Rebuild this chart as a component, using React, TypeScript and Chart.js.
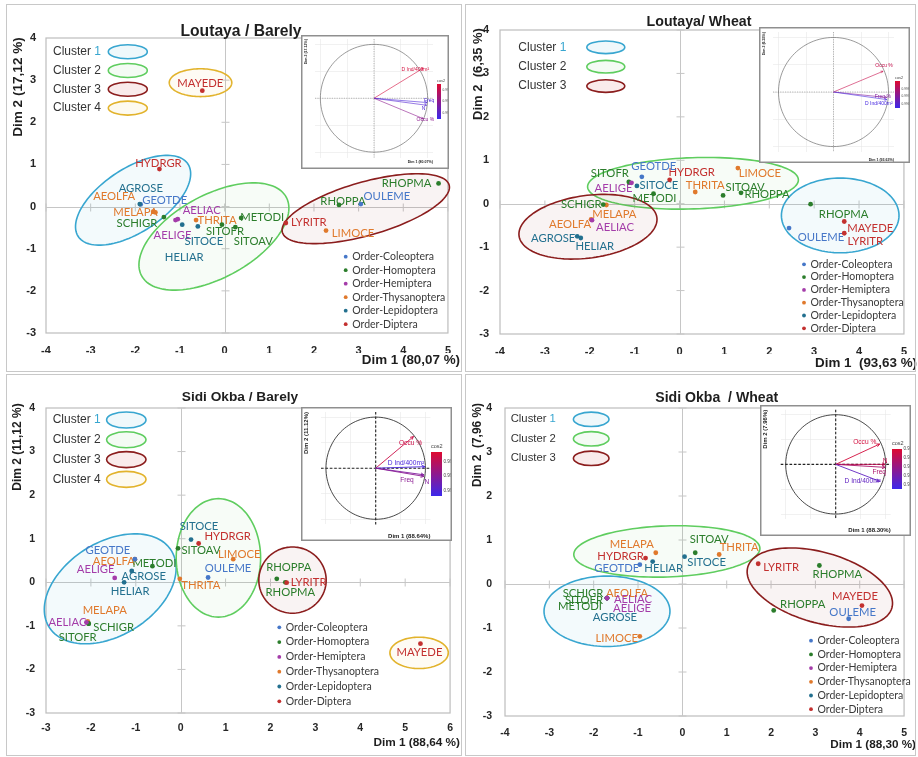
import React, { useEffect, useRef } from "react";
import { Chart, registerables } from "chart.js";

Chart.register(...registerables);

/* ============================ DATA ============================ */
const SPECIES = ["HYDRGR", "AGROSE", "GEOTDE", "AEOLFA", "MELAPA", "SCHIGR", "AELIGE", "AELIAC", "THRITA", "HELIAR", "SITOCE", "SITOFR", "METODI", "SITOAV", "LYRITR", "LIMOCE", "RHOPPA", "OULEME", "RHOPMA", "MAYEDE"];
const SPECIES_ORDER = ["Diptera", "Lepidoptera", "Coleoptera", "Thysanoptera", "Thysanoptera", "Homoptera", "Hemiptera", "Hemiptera", "Thysanoptera", "Lepidoptera", "Lepidoptera", "Homoptera", "Homoptera", "Homoptera", "Diptera", "Thysanoptera", "Homoptera", "Coleoptera", "Homoptera", "Diptera"];
const ORDERS = ["Coleoptera", "Homoptera", "Hemiptera", "Thysanoptera", "Lepidoptera", "Diptera"];
const ORDER_LEGEND = ["Order-Coleoptera", "Order-Homoptera", "Order-Hemiptera", "Order-Thysanoptera", "Order-Lepidoptera", "Order-Diptera"];
const CLUSTER_LABELS = ["Cluster 1", "Cluster 2", "Cluster 3", "Cluster 4"];
const INSET_TICKS = [-1, -0.5, 0, 0.5, 1];

// Loutaya / Barely
const LB_TITLE = "Loutaya / Barely";
const LB_DIM1 = "Dim 1 (80,07 %)";
const LB_DIM2 = "Dim 2 (17,12 %)";
const LB_X = [-1.46, -1.9, -1.88, -1.6, -1.55, -1.36, -1.1, -1.05, -0.64, -0.95, -0.6, -0.06, 0.37, 0.24, 1.37, 2.27, 2.56, 3.05, 4.79, -0.5];
const LB_Y = [0.89, 0.06, 0.05, -0.12, -0.14, -0.25, -0.32, -0.3, -0.32, -0.43, -0.47, -0.43, -0.27, -0.49, -0.39, -0.57, 0.04, 0.06, 0.55, 2.75];
const LB_ELLIPSES = [[-2.05, 0.15, 1.5, 0.74, 36], [-0.24, -0.71, 1.87, 0.97, 31], [3.16, -0.05, 1.95, 0.63, 17], [-0.54, 2.94, 0.7, 0.33, 0]];
const LB_VARS = ["D Ind/400m²", "Freq", "N", "Occu %"];
const LB_VX = [0.92, 0.99, 0.98, 0.92];
const LB_VY = [0.56, -0.08, -0.13, -0.38];
const LB_COS2 = [0.9993, 0.9968, 0.9969, 0.998];
const LB_CBAR = [0.999, 0.998, 0.997];
const LB_CBAR_RANGE = [0.9965, 0.9995];
const LB_INSET_DIM1 = "Dim 1 (80.07%)";
const LB_INSET_DIM2 = "Dim 2 (17.12%)";

// Loutaya / Wheat
const LW_TITLE = "Loutaya/ Wheat";
const LW_DIM1 = "Dim 1  (93,63 %)";
const LW_DIM2 = "Dim 2  (6,35 %)";
const LW_X = [-0.22, -2.28, -0.84, -1.97, -1.63, -1.7, -1.07, -1.95, 0.35, -2.2, -0.95, -1.13, -0.58, 0.97, 3.67, 1.3, 1.37, 2.44, 2.92, 3.67];
const LW_Y = [0.55, -0.75, 0.62, -0.36, -0.03, -0.02, 0.48, -0.38, 0.27, -0.79, 0.41, 0.5, 0.23, 0.19, -0.68, 0.82, 0.25, -0.56, -0.01, -0.41];
const LW_ELLIPSES = [[3.58, -0.27, 1.31, 0.86, 0], [0.3, 0.47, 2.35, 0.59, 2], [-2.04, -0.53, 1.55, 0.72, 8]];
const LW_VARS = ["Occu %", "Freq %", "D Ind/400m²"];
const LW_VX = [0.9, 0.97, 0.97];
const LW_VY = [0.38, -0.1, -0.14];
const LW_COS2 = [0.9985, 0.997, 0.9957];
const LW_CBAR = [0.998, 0.997, 0.996];
const LW_CBAR_RANGE = [0.9955, 0.999];
const LW_INSET_DIM1 = "Dim 1 (93.63%)";
const LW_INSET_DIM2 = "Dim 2 (6.35%)";

// Sidi Okba / Barely
const SB_TITLE = "Sidi Okba / Barely";
const SB_DIM1 = "Dim 1 (88,64 %)";
const SB_DIM2 = "Dim 2 (11,12 %)";
const SB_X = [0.4, -1.09, -1.02, -1.02, -2.07, -2.05, -1.47, -2.1, -0.02, -1.26, 0.23, -2.05, -0.63, -0.06, 2.36, 1.17, 2.14, 0.61, 2.33, 5.34];
const SB_Y = [0.89, 0.26, 0.53, 0.53, -0.9, -0.95, 0.1, -0.92, 0.08, 0.0, 0.98, -0.95, 0.37, 0.78, -0.01, 0.53, 0.08, 0.11, 0.0, -1.41];
const SB_ELLIPSES = [[-1.57, -0.15, 1.62, 1.06, 34], [0.84, 0.56, 0.94, 1.36, 0], [2.49, 0.05, 0.75, 0.76, 0], [5.31, -1.62, 0.65, 0.36, 0]];
const SB_VARS = ["Occu %", "D Ind/400m²", "Freq", "N"];
const SB_VX = [0.76, 0.99, 0.97, 0.97];
const SB_VY = [0.62, 0.03, -0.16, -0.13];
const SB_COS2 = [0.9986, 0.9938, 0.9962, 0.9958];
const SB_CBAR = [0.998, 0.996, 0.994];
const SB_CBAR_RANGE = [0.9933, 0.9993];
const SB_INSET_DIM1 = "Dim 1 (88.64%)";
const SB_INSET_DIM2 = "Dim 2 (11.12%)";

// Sidi Okba / Wheat
const SW_TITLE = "Sidi Okba  / Wheat";
const SW_DIM1 = "Dim 1 (88,30 %)";
const SW_DIM2 = "Dim 2  (7,96 %)";
const SW_X = [-0.83, -1.7, -0.96, -1.7, -0.6, -1.7, -1.7, -1.7, 0.83, -0.67, 0.05, -1.7, -1.7, 0.29, 1.71, -0.96, 2.06, 3.75, 3.09, 4.05];
const SW_Y = [0.59, -0.32, 0.44, -0.32, 0.71, -0.32, -0.32, -0.32, 0.67, 0.51, 0.62, -0.32, -0.32, 0.71, 0.46, -1.19, -0.6, -0.79, 0.42, -0.49];
const SW_ELLIPSES = [[-1.7, -0.62, 1.42, 0.8, 0], [-0.35, 0.74, 2.1, 0.58, 2], [3.1, -0.08, 1.69, 0.8, -16]];
const SW_VARS = ["Occu %", "N", "Freq", "D Ind/400m²"];
const SW_VX = [0.88, 0.99, 0.99, 0.88];
const SW_VY = [0.41, 0.0, -0.06, -0.34];
const SW_COS2 = [0.977, 0.972, 0.966, 0.945];
const SW_CBAR = [0.98, 0.97, 0.96, 0.95, 0.94];
const SW_CBAR_RANGE = [0.935, 0.98];
const SW_INSET_DIM1 = "Dim 1 (88.30%)";
const SW_INSET_DIM2 = "Dim 2 (7.96%)";

/* ============================ STYLE / LAYOUT ============================ */
const SANS = "'Liberation Sans', Arial, sans-serif";
const LABEL_FAMILY = "Lato, 'Open Sans', sans-serif";
const ORDER_COLORS: Record<string, string> = {
  Coleoptera: "#4677c8",
  Homoptera: "#2b7d2b",
  Hemiptera: "#a43ca9",
  Thysanoptera: "#e0792c",
  Lepidoptera: "#23708f",
  Diptera: "#c3302f",
};
// drawing priority (lower = on top)
const ORDER_DRAW = [3, 4, 0, 5, 2, 1];
const CLUSTER_COLORS = ["#38a6d0", "#5fcd5f", "#8b1d1d", "#e2b32c"];
const CLUSTER_FILLS = ["rgba(56,166,208,0.06)", "rgba(95,205,95,0.05)", "rgba(139,29,29,0.05)", "rgba(226,179,44,0.05)"];
const CLUSTER_LEG_FILLS = ["rgba(56,166,208,0.08)", "rgba(95,205,95,0.07)", "rgba(200,60,60,0.1)", "rgba(226,179,44,0.07)"];

type Inset = { box: number[]; area: number[]; cbar: number[]; tick: number; title: number; label: number; xTitleDy: number; yTitleDx: number; heavy: boolean; offsets: number[][] };
type Layout = {
  key: string; canvas: number[]; border: number[]; area: number[]; xRange: number[]; yRange: number[];
  title: number[]; yTitle: number[]; xTitle: number[]; fonts: number[];
  cluster: number[]; order: number[]; tickPad: number[]; offsets: number[][]; inset: Inset;
};
type PanelData = {
  title: string; dim1: string; dim2: string; xs: number[]; ys: number[]; ellipses: number[][];
  vars: string[]; vx: number[]; vy: number[]; cos2: number[]; cbar: number[]; cbarRange: number[];
  insetDim1: string; insetDim2: string;
};

const LB_LAYOUT: Layout = {
  key: "lb", canvas: [0, 0, 462, 373], border: [6, 4, 456, 368], area: [46, 38, 450, 333],
  xRange: [-4, 5], yRange: [-3, 4], title: [241, 32], yTitle: [18, 87], xTitle: [460, 360],
  fonts: [15.7, 13.6, 13.4, 11, 12],
  cluster: [53, 51.7, 18.8, 127.8, 19.5, 7], order: [345.7, 256.7, 13.5], tickPad: [10, 11],
  offsets: [[-1, -6], [1, -16], [24, -4], [-39, -15], [-20, 0], [-27, 6], [-3, 15], [24, -9], [21, 0], [2, 33], [6, 15], [3, 7], [21, -1], [18, 14], [23, -1], [27, 3], [4, -4], [26, -8], [-32, 0], [-2, -7]],
  inset: { box: [301, 35, 148, 134], area: [315, 39, 433, 157.5], cbar: [437, 84, 4, 35], tick: 3.2, title: 3.6, label: 5, xTitleDy: 4.8, yTitleDx: -9, heavy: false, offsets: [[-8, 2], [2, -2], [-3, 3], [2, 1]] },
};
const LW_LAYOUT: Layout = {
  key: "lw", canvas: [462, 0, 456, 373], border: [465, 4, 451, 368], area: [500, 30, 910, 334],
  xRange: [-4, 5], yRange: [-3, 4], title: [699, 22], yTitle: [478, 74], xTitle: [917, 363],
  fonts: [14.2, 13, 13.4, 11, 12],
  cluster: [518.3, 47.3, 19.4, 605.8, 19, 6.3], order: [804, 264.3, 12.8], tickPad: [11, 11],
  offsets: [[22, -7], [-24, 2], [12, -10], [-21, 5], [8, 9], [-22, 0], [-18, 5], [23, 7], [10, -7], [14, 8], [22, -1], [-19, -9], [1, 5], [22, -8], [21, 8], [22, 5], [26, 2], [32, 9], [33, 10], [26, 7]],
  inset: { box: [759, 27, 151, 136], area: [773, 32, 894, 152], cbar: [895, 81, 5, 27], tick: 3.2, title: 3.6, label: 5, xTitleDy: 8, yTitleDx: -9, heavy: false, offsets: [[1, -6], [-4, -1], [-8, 4]] },
};
const SB_LAYOUT: Layout = {
  key: "sb", canvas: [0, 373, 462, 384], border: [6, 374, 456, 382], area: [46, 408, 455, 713],
  xRange: [-3, 6], yRange: [-3, 4], title: [240, 397], yTitle: [18, 447], xTitle: [460, 743],
  fonts: [13.7, 12, 11.8, 10.5, 12],
  cluster: [52.7, 420, 19.8, 126.3, 19.7, 8], order: [279.3, 627.3, 14.8], tickPad: [11, 9],
  offsets: [[29, -7], [12, 5], [-27, -9], [-21, 2], [17, -11], [25, 4], [-19, -9], [-19, 0], [21, 7], [6, 9], [8, -13], [-11, 14], [2, -3], [23, 2], [22, 0], [6, -5], [12, -11], [20, -9], [5, 10], [-1, 9]],
  inset: { box: [301, 407, 151, 134], area: [321, 412, 430.4, 524.4], cbar: [431, 452, 11, 44], tick: 4.6, title: 6, label: 6.6, xTitleDy: 12.3, yTitleDx: -14.3, heavy: true, offsets: [[-3, 7], [-19, -3], [-17, 4], [3, 7]] },
};
const SW_LAYOUT: Layout = {
  key: "sw", canvas: [462, 373, 456, 384], border: [465, 374, 451, 382], area: [505, 408, 912, 716],
  xRange: [-4, 5], yRange: [-3, 4], title: [716.7, 398], yTitle: [478, 445], xTitle: [916, 745],
  fonts: [14.1, 11.9, 11.7, 10.5, 11.3],
  cluster: [510.7, 419.3, 19.5, 591.2, 17.8, 7.2], order: [811, 640.7, 13.7], tickPad: [13, 11],
  offsets: [[-25, -2], [8, 19], [-23, 4], [20, -5], [-24, -8], [-24, -5], [25, 10], [26, 1], [20, -7], [11, 7], [22, 6], [-23, 2], [-27, 8], [14, -13], [23, 4], [-23, 2], [29, -6], [4, -6], [18, 9], [-7, -9]],
  inset: { box: [760, 405, 151, 131], area: [780.7, 409.6, 890.7, 519], cbar: [892, 449, 10, 40], tick: 4.6, title: 6, label: 6.6, xTitleDy: 11.7, yTitleDx: -15.7, heavy: true, offsets: [[-15, -2], [0, -3], [-6, 5], [-17, 0]] },
};

const PANELS: { data: PanelData; layout: Layout }[] = [
  { data: { title: LB_TITLE, dim1: LB_DIM1, dim2: LB_DIM2, xs: LB_X, ys: LB_Y, ellipses: LB_ELLIPSES, vars: LB_VARS, vx: LB_VX, vy: LB_VY, cos2: LB_COS2, cbar: LB_CBAR, cbarRange: LB_CBAR_RANGE, insetDim1: LB_INSET_DIM1, insetDim2: LB_INSET_DIM2 }, layout: LB_LAYOUT },
  { data: { title: LW_TITLE, dim1: LW_DIM1, dim2: LW_DIM2, xs: LW_X, ys: LW_Y, ellipses: LW_ELLIPSES, vars: LW_VARS, vx: LW_VX, vy: LW_VY, cos2: LW_COS2, cbar: LW_CBAR, cbarRange: LW_CBAR_RANGE, insetDim1: LW_INSET_DIM1, insetDim2: LW_INSET_DIM2 }, layout: LW_LAYOUT },
  { data: { title: SB_TITLE, dim1: SB_DIM1, dim2: SB_DIM2, xs: SB_X, ys: SB_Y, ellipses: SB_ELLIPSES, vars: SB_VARS, vx: SB_VX, vy: SB_VY, cos2: SB_COS2, cbar: SB_CBAR, cbarRange: SB_CBAR_RANGE, insetDim1: SB_INSET_DIM1, insetDim2: SB_INSET_DIM2 }, layout: SB_LAYOUT },
  { data: { title: SW_TITLE, dim1: SW_DIM1, dim2: SW_DIM2, xs: SW_X, ys: SW_Y, ellipses: SW_ELLIPSES, vars: SW_VARS, vx: SW_VX, vy: SW_VY, cos2: SW_COS2, cbar: SW_CBAR, cbarRange: SW_CBAR_RANGE, insetDim1: SW_INSET_DIM1, insetDim2: SW_INSET_DIM2 }, layout: SW_LAYOUT },
];

/* ============================ HELPERS ============================ */
function fitSize(ctx: CanvasRenderingContext2D, family: string, sample: string, target: number) {
  ctx.save();
  ctx.font = `100px ${family}`;
  const w = ctx.measureText(sample).width || 100;
  ctx.restore();
  return (100 * target) / w;
}

function ellipsePath(ctx: CanvasRenderingContext2D, xs: any, ys: any, e: number[]) {
  const [cx, cy, a, b, deg] = e;
  const th = (deg * Math.PI) / 180;
  ctx.beginPath();
  for (let i = 0; i <= 120; i++) {
    const t = (i / 120) * Math.PI * 2;
    const u = a * Math.cos(t);
    const v = b * Math.sin(t);
    const x = cx + u * Math.cos(th) - v * Math.sin(th);
    const y = cy + u * Math.sin(th) + v * Math.cos(th);
    const px = xs.getPixelForValue(x);
    const py = ys.getPixelForValue(y);
    if (i === 0) ctx.moveTo(px, py);
    else ctx.lineTo(px, py);
  }
  ctx.closePath();
}

function cosColor(t: number) {
  const k = Math.max(0, Math.min(1, t));
  const lo = [60, 40, 235];
  const hi = [222, 10, 48];
  const c = lo.map((v, i) => Math.round(v + (hi[i] - v) * k));
  return `rgb(${c[0]},${c[1]},${c[2]})`;
}

/* ============================ MAIN CHART ============================ */
function makeMain(canvas: HTMLCanvasElement, d: PanelData, L: Layout) {
  const [ox, oy, cw, ch] = L.canvas;
  const [al, at, ar, ab] = L.area;
  const YW = 30;
  const XH = 20;
  const P = (x: number) => x - ox;
  const Q = (y: number) => y - oy;
  const c2d = canvas.getContext("2d")!;
  const labelPx = fitSize(c2d, LABEL_FAMILY, "HYDRGR", 46.5);
  const legendPx = fitSize(c2d, LABEL_FAMILY, "Order-Thysanoptera", 93.3);
  const [fTitle, fY, fX, fTick, fClu] = L.fonts;

  const datasets = ORDERS.map((o, k) => ({
    label: o,
    order: ORDER_DRAW[k],
    data: SPECIES.map((_, i) => ({ x: d.xs[i], y: d.ys[i], g: SPECIES_ORDER[i] })).filter((p) => p.g === o),
    backgroundColor: ORDER_COLORS[o],
    borderColor: ORDER_COLORS[o],
    borderWidth: 0,
    pointRadius: 2.4,
    pointHoverRadius: 2.4,
  }));

  const decor = {
    id: "decor",
    beforeDatasetsDraw(chart: any) {
      const ctx: CanvasRenderingContext2D = chart.ctx;
      const a = chart.chartArea;
      const xs = chart.scales.x;
      const ys = chart.scales.y;
      ctx.save();
      ctx.strokeStyle = "#bdbdbd";
      ctx.lineWidth = 1.2;
      ctx.strokeRect(a.left, a.top, a.right - a.left, a.bottom - a.top);
      const x0 = Math.round(xs.getPixelForValue(0)) + 0.5;
      const y0 = Math.round(ys.getPixelForValue(0)) + 0.5;
      ctx.strokeStyle = "#c6c6c6";
      ctx.lineWidth = 1;
      ctx.beginPath();
      ctx.moveTo(x0, a.top);
      ctx.lineTo(x0, a.bottom);
      ctx.moveTo(a.left, y0);
      ctx.lineTo(a.right, y0);
      xs.ticks.forEach((t: any) => {
        const px = xs.getPixelForValue(t.value);
        ctx.moveTo(px, y0 - 4);
        ctx.lineTo(px, y0 + 4);
      });
      ys.ticks.forEach((t: any) => {
        const py = ys.getPixelForValue(t.value);
        ctx.moveTo(x0 - 4, py);
        ctx.lineTo(x0 + 4, py);
      });
      ctx.stroke();
      d.ellipses.forEach((e, k) => {
        ellipsePath(ctx, xs, ys, e);
        ctx.fillStyle = CLUSTER_FILLS[k];
        ctx.fill();
        ctx.strokeStyle = CLUSTER_COLORS[k];
        ctx.lineWidth = 1.6;
        ctx.stroke();
      });
      ctx.font = `${labelPx}px ${LABEL_FAMILY}`;
      ctx.textAlign = "center";
      ctx.textBaseline = "middle";
      SPECIES.forEach((s, i) => {
        const off = L.offsets[i];
        ctx.fillStyle = ORDER_COLORS[SPECIES_ORDER[i]];
        ctx.fillText(s, xs.getPixelForValue(d.xs[i]) + off[0], ys.getPixelForValue(d.ys[i]) + off[1]);
      });
      ctx.restore();
    },
    afterDatasetsDraw(chart: any) {
      const ctx: CanvasRenderingContext2D = chart.ctx;
      ctx.save();
      ctx.textBaseline = "middle";
      // cluster legend
      const [tx, ty0, tdy, sx, rx, ry] = L.cluster;
      ctx.font = `${fClu}px ${SANS}`;
      ctx.textAlign = "left";
      d.ellipses.forEach((_, k) => {
        const y = Q(ty0 + k * tdy);
        const lab = CLUSTER_LABELS[k];
        const sp = lab.lastIndexOf(" ");
        const head = lab.slice(0, sp + 1);
        const num = lab.slice(sp + 1);
        ctx.fillStyle = "#333";
        ctx.fillText(head, P(tx), y);
        const w = ctx.measureText(head).width;
        ctx.fillStyle = k === 0 ? CLUSTER_COLORS[0] : "#333";
        ctx.fillText(num, P(tx) + w, y);
        ctx.beginPath();
        ctx.ellipse(P(sx), y, rx, ry, 0, 0, Math.PI * 2);
        ctx.fillStyle = CLUSTER_LEG_FILLS[k];
        ctx.fill();
        ctx.strokeStyle = CLUSTER_COLORS[k];
        ctx.lineWidth = 1.6;
        ctx.stroke();
      });
      // order legend
      const [dx0, dy0, ddy] = L.order;
      ctx.font = `${legendPx}px ${LABEL_FAMILY}`;
      ORDERS.forEach((o, i) => {
        const y = Q(dy0 + i * ddy);
        ctx.fillStyle = ORDER_COLORS[o];
        ctx.beginPath();
        ctx.arc(P(dx0), y, 1.9, 0, Math.PI * 2);
        ctx.fill();
        ctx.fillStyle = "#3a3a3a";
        ctx.fillText(ORDER_LEGEND[i], P(dx0) + 6.5, y);
      });
      // titles
      ctx.fillStyle = "#1e1e1e";
      ctx.textAlign = "center";
      ctx.font = `bold ${fTitle}px ${SANS}`;
      ctx.fillText(d.title, P(L.title[0]), Q(L.title[1]));
      ctx.save();
      ctx.translate(P(L.yTitle[0]), Q(L.yTitle[1]));
      ctx.rotate(-Math.PI / 2);
      ctx.font = `bold ${fY}px ${SANS}`;
      ctx.fillText(d.dim2, 0, 0);
      ctx.restore();
      ctx.textAlign = "right";
      ctx.font = `bold ${fX}px ${SANS}`;
      ctx.fillText(d.dim1, P(L.xTitle[0]), Q(L.xTitle[1]));
      ctx.restore();
    },
  };

  const tickFont = { family: SANS, size: fTick, weight: "bold" as const };
  return new Chart(canvas, {
    type: "scatter",
    data: { datasets } as any,
    options: {
      responsive: false,
      animation: false,
      events: [],
      layout: { padding: { left: al - ox - YW, top: at - oy, right: ox + cw - ar, bottom: oy + ch - ab - XH } },
      plugins: { legend: { display: false }, tooltip: { enabled: false }, title: { display: false } },
      scales: {
        x: {
          type: "linear", position: "bottom", min: L.xRange[0], max: L.xRange[1],
          ticks: { stepSize: 1, padding: L.tickPad[1], font: tickFont, color: "#262626", maxRotation: 0, autoSkip: false },
          grid: { display: false, drawTicks: false }, border: { display: false },
          afterFit: (s: any) => { s.height = XH; },
        },
        y: {
          type: "linear", position: "left", min: L.yRange[0], max: L.yRange[1],
          ticks: { stepSize: 1, padding: L.tickPad[0], font: tickFont, color: "#262626", autoSkip: false },
          grid: { display: false, drawTicks: false }, border: { display: false },
          afterFit: (s: any) => { s.width = YW; },
        },
      },
    } as any,
    plugins: [decor],
  });
}

/* ============================ INSET CHART ============================ */
function makeInset(canvas: HTMLCanvasElement, d: PanelData, L: Layout) {
  const I = L.inset;
  const [bx, by, bw, bh] = I.box;
  const [al, at, ar, ab] = I.area;
  const P = (x: number) => x - bx;
  const Q = (y: number) => y - by;

  const plugin = {
    id: "inset",
    beforeDraw(chart: any) {
      const ctx: CanvasRenderingContext2D = chart.ctx;
      ctx.save();
      ctx.fillStyle = "#ffffff";
      ctx.fillRect(0, 0, chart.width, chart.height);
      ctx.restore();
    },
    beforeDatasetsDraw(chart: any) {
      const ctx: CanvasRenderingContext2D = chart.ctx;
      const a = chart.chartArea;
      const xs = chart.scales.x;
      const ys = chart.scales.y;
      ctx.save();
      const x0 = xs.getPixelForValue(0);
      const y0 = ys.getPixelForValue(0);
      ctx.setLineDash(I.heavy ? [2.6, 1.8] : [1.2, 1.2]);
      ctx.strokeStyle = I.heavy ? "#222" : "#888";
      ctx.lineWidth = I.heavy ? 1.1 : 0.6;
      ctx.beginPath();
      ctx.moveTo(x0, a.top);
      ctx.lineTo(x0, a.bottom);
      ctx.moveTo(a.left, y0);
      ctx.lineTo(a.right, y0);
      ctx.stroke();
      ctx.setLineDash([]);
      ctx.strokeStyle = I.heavy ? "#333" : "#6f6f6f";
      ctx.lineWidth = I.heavy ? 0.9 : 0.7;
      ctx.beginPath();
      for (let i = 0; i <= 120; i++) {
        const t = (i / 120) * Math.PI * 2;
        const px = xs.getPixelForValue(Math.cos(t));
        const py = ys.getPixelForValue(Math.sin(t));
        if (i === 0) ctx.moveTo(px, py);
        else ctx.lineTo(px, py);
      }
      ctx.stroke();
      ctx.restore();
    },
    afterDatasetsDraw(chart: any) {
      const ctx: CanvasRenderingContext2D = chart.ctx;
      const a = chart.chartArea;
      const xs = chart.scales.x;
      const ys = chart.scales.y;
      ctx.save();
      const x0 = xs.getPixelForValue(0);
      const y0 = ys.getPixelForValue(0);
      const [r0, r1] = d.cbarRange;
      ctx.textAlign = "center";
      ctx.textBaseline = "middle";
      d.vars.forEach((name, i) => {
        const col = cosColor((d.cos2[i] - r0) / (r1 - r0));
        const tx = xs.getPixelForValue(d.vx[i]);
        const ty = ys.getPixelForValue(d.vy[i]);
        ctx.strokeStyle = col;
        ctx.lineWidth = I.heavy ? 0.9 : 0.6;
        ctx.beginPath();
        ctx.moveTo(x0, y0);
        ctx.lineTo(tx, ty);
        const ang = Math.atan2(ty - y0, tx - x0);
        const h = I.heavy ? 3.5 : 2.5;
        ctx.moveTo(tx, ty);
        ctx.lineTo(tx - h * Math.cos(ang - 0.45), ty - h * Math.sin(ang - 0.45));
        ctx.moveTo(tx, ty);
        ctx.lineTo(tx - h * Math.cos(ang + 0.45), ty - h * Math.sin(ang + 0.45));
        ctx.stroke();
        ctx.fillStyle = col;
        ctx.font = `${I.label}px ${SANS}`;
        ctx.fillText(name, tx + I.offsets[i][0], ty + I.offsets[i][1]);
      });
      // colour bar
      const [cx, cy, cbw, cbh] = I.cbar;
      const g = ctx.createLinearGradient(0, Q(cy), 0, Q(cy + cbh));
      g.addColorStop(0, cosColor(1));
      g.addColorStop(0.5, cosColor(0.5));
      g.addColorStop(1, cosColor(0));
      ctx.fillStyle = g;
      ctx.fillRect(P(cx), Q(cy), cbw, cbh);
      ctx.fillStyle = "#444";
      ctx.textAlign = "left";
      ctx.font = `${I.tick}px ${SANS}`;
      d.cbar.forEach((v) => {
        const yy = Q(cy) + (1 - (v - r0) / (r1 - r0)) * cbh;
        ctx.fillText(String(v), P(cx + cbw) + 1.5, yy);
      });
      ctx.font = `${I.tick * 1.2}px ${SANS}`;
      ctx.fillText("cos2", P(cx), Q(cy) - I.tick * 1.1);
      // axis titles
      ctx.fillStyle = "#222";
      ctx.font = `bold ${I.title}px ${SANS}`;
      ctx.textAlign = "right";
      ctx.fillText(d.insetDim1, a.right, a.bottom + I.xTitleDy);
      ctx.save();
      ctx.translate(a.left + I.yTitleDx, a.top);
      ctx.rotate(-Math.PI / 2);
      ctx.fillText(d.insetDim2, 0, 0);
      ctx.restore();
      // frame
      ctx.strokeStyle = "#8f8f8f";
      ctx.lineWidth = 1.5;
      ctx.strokeRect(0.75, 0.75, chart.width - 1.5, chart.height - 1.5);
      ctx.restore();
    },
  };

  const tickCfg = {
    font: { size: I.tick, family: SANS },
    color: "#7a7a7a",
    padding: 2,
    maxRotation: 0,
    autoSkip: false,
    callback: (v: any) => Number(v).toFixed(1),
  };
  const gridCfg = { color: "#e8e8e8", lineWidth: 0.6, drawTicks: false };
  return new Chart(canvas, {
    type: "scatter",
    data: { datasets: [{ data: d.vx.map((x, i) => ({ x, y: d.vy[i] })), pointRadius: 0, pointHoverRadius: 0 }] },
    options: {
      responsive: false,
      animation: false,
      events: [],
      layout: { padding: { left: al - bx, top: at - by, right: bx + bw - ar, bottom: by + bh - ab } },
      plugins: { legend: { display: false }, tooltip: { enabled: false } },
      scales: {
        x: {
          type: "linear", min: -1.1, max: 1.1,
          afterBuildTicks: (s: any) => { s.ticks = INSET_TICKS.map((v) => ({ value: v })); },
          afterFit: (s: any) => { s.height = 0; },
          grid: gridCfg, border: { display: false }, ticks: tickCfg,
        },
        y: {
          type: "linear", min: -1.1, max: 1.1,
          afterBuildTicks: (s: any) => { s.ticks = INSET_TICKS.map((v) => ({ value: v })); },
          afterFit: (s: any) => { s.width = 0; },
          grid: gridCfg, border: { display: false }, ticks: tickCfg,
        },
      },
    } as any,
    plugins: [plugin],
  });
}

/* ============================ APP ============================ */
export default function App() {
  const refs = useRef<(HTMLCanvasElement | null)[]>([]);

  useEffect(() => {
    const charts: Chart[] = [];
    PANELS.forEach((p, i) => {
      const main = refs.current[i * 2];
      const ins = refs.current[i * 2 + 1];
      if (main) charts.push(makeMain(main, p.data, p.layout));
      if (ins) charts.push(makeInset(ins, p.data, p.layout));
    });
    return () => charts.forEach((c) => c.destroy());
  }, []);

  return (
    <div style={{ position: "absolute", left: 0, top: 0, width: 918, height: 757, background: "#fff", overflow: "hidden" }}>
      {PANELS.map((p, i) => {
        const L = p.layout;
        const [cl, ct, cw, ch] = L.canvas;
        const [bl, bt, bw, bh] = L.border;
        const [il, it, iw, ih] = L.inset.box;
        return (
          <React.Fragment key={L.key}>
            <canvas
              ref={(el) => { refs.current[i * 2] = el; }}
              width={cw}
              height={ch}
              style={{ position: "absolute", left: cl, top: ct, width: cw, height: ch }}
            />
            <div style={{ position: "absolute", left: bl, top: bt, width: bw, height: bh, border: "1px solid #c8c8c8", boxSizing: "border-box", pointerEvents: "none" }} />
            <canvas
              ref={(el) => { refs.current[i * 2 + 1] = el; }}
              width={iw}
              height={ih}
              style={{ position: "absolute", left: il, top: it, width: iw, height: ih }}
            />
          </React.Fragment>
        );
      })}
    </div>
  );
}
